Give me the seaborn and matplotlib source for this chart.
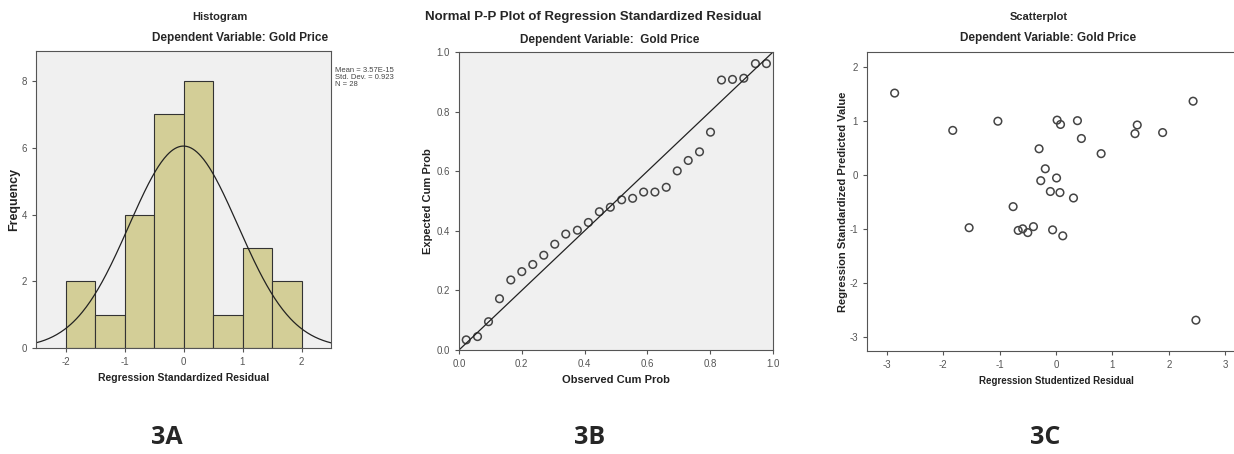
import numpy as np
import pandas as pd
import matplotlib
matplotlib.use("Agg")
import matplotlib.pyplot as plt
import seaborn as sns

# ---- data ----
bin_edges = [-2.0, -1.5, -1.0, -0.5, 0.0, 0.5, 1.0, 1.5, 2.0]
bin_counts = [2, 1, 4, 7, 8, 1, 3, 2]
resid_mean = 3.57e-15
resid_sd = 0.923
n_obs = 28

pp_observed = [0.023, 0.059, 0.094, 0.129, 0.165, 0.200, 0.235, 0.270, 0.305, 0.340,
               0.377, 0.412, 0.447, 0.482, 0.518, 0.553, 0.588, 0.624, 0.660, 0.695,
               0.730, 0.766, 0.801, 0.836, 0.871, 0.907, 0.944, 0.979]
pp_expected = [0.034, 0.045, 0.095, 0.172, 0.235, 0.263, 0.287, 0.318, 0.355, 0.389,
               0.402, 0.428, 0.464, 0.479, 0.504, 0.509, 0.530, 0.530, 0.546, 0.601,
               0.636, 0.665, 0.731, 0.906, 0.908, 0.912, 0.961, 0.961]

stud_resid = [-2.86, -1.83, -1.03, -1.54, -0.76, -0.67, -0.59, -0.50, -0.40, -0.06,
              0.12, -0.30, -0.19, -0.27, 0.01, -0.10, 0.07, 0.31, 0.02, 0.08,
              0.38, 0.45, 0.80, 1.40, 1.44, 1.89, 2.43, 2.48]
std_pred = [1.51, 0.82, 0.99, -0.98, -0.59, -1.03, -1.00, -1.07, -0.96, -1.02,
            -1.13, 0.48, 0.11, -0.11, -0.06, -0.31, -0.33, -0.43, 1.01, 0.93,
            1.00, 0.67, 0.39, 0.76, 0.92, 0.78, 1.36, -2.69]

sns.set_style("ticks", {"axes.edgecolor": "#555555", "xtick.color": "#555555",
                        "ytick.color": "#555555"})
plt.rcParams["font.family"] = ["Liberation Sans", "DejaVu Sans"]
plt.rcParams["axes.unicode_minus"] = False
plt.rcParams["xtick.labelsize"] = 7
plt.rcParams["ytick.labelsize"] = 7
plt.rcParams["xtick.major.size"] = 3
plt.rcParams["ytick.major.size"] = 3

W, H = 1234, 454
fig = plt.figure(figsize=(W / 100, H / 100), dpi=100)


def box(l, t, r, b):
    return [l / W, 1 - b / H, (r - l) / W, (b - t) / H]


grey_bg = "#f0f0f0"
narrow = ["Liberation Sans Narrow", "Liberation Sans", "DejaVu Sans"]
dot = dict(marker="o", s=30, facecolor="none", edgecolor="#444444", linewidth=1.1)


def label(ax, xl, yl, xs=8, ys=8):
    ax.set_xlabel(xl, fontsize=xs, fontweight="bold", color="#222222")
    ax.set_ylabel(yl, fontsize=ys, fontweight="bold", color="#222222")


#####################################################################
ax = fig.add_axes(box(36, 51, 331, 348))
ax.set_facecolor(grey_bg)
centers = [(a + b) / 2 for a, b in zip(bin_edges[:-1], bin_edges[1:])]
sns.histplot(x=centers, weights=bin_counts, bins=bin_edges, ax=ax,
             color="#d3ce97", alpha=1, edgecolor="#333333", linewidth=0.8)
xs = np.linspace(-2.5, 2.5, 300)
curve = n_obs * 0.5 * np.exp(-0.5 * ((xs - resid_mean) / resid_sd) ** 2) / (resid_sd * np.sqrt(2 * np.pi))
sns.lineplot(x=xs, y=curve, ax=ax, color="#222222", linewidth=0.9)
ax.set_xlim(-2.5, 2.5)
ax.set_ylim(0, 8.9)
ax.set_xticks([-2, -1, 0, 1, 2])
ax.set_yticks([0, 2, 4, 6, 8])
label(ax, "Regression Standardized Residual", "Frequency", xs=7.5, ys=9)
ax.yaxis.set_label_coords(-0.054, 0.5)
fig.text(335 / W, 1 - 67 / H, "Mean = 3.57E-15\nStd. Dev. = 0.923\nN = 28",
         fontsize=5.5, color="#444444", va="top", linespacing=0.95)
fig.text(220 / W, 1 - 17 / H, "Histogram", ha="center", va="center",
         fontsize=8, fontweight="bold", family=narrow)
fig.text(240 / W, 1 - 38 / H, "Dependent Variable: Gold Price", ha="center",
         va="center", fontsize=8.5, fontweight="bold", family=narrow)

#####################################################################
ax = fig.add_axes(box(459, 52, 773, 350))
ax.set_facecolor(grey_bg)
ax.plot([0, 1], [0, 1], color="#222222", linewidth=0.9)
sns.scatterplot(x=pp_observed, y=pp_expected, ax=ax, **dot)
ax.set_xlim(0, 1)
ax.set_ylim(0, 1)
ax.set_xticks(np.arange(0, 1.01, 0.2))
ax.set_yticks(np.arange(0, 1.01, 0.2))
ax.xaxis.set_major_formatter("{x:.1f}")
ax.yaxis.set_major_formatter("{x:.1f}")
label(ax, "Observed Cum Prob", "Expected Cum Prob")
ax.yaxis.set_label_coords(-0.083, 0.5)
fig.text(593 / W, 1 - 17 / H, "Normal P-P Plot of Regression Standardized Residual",
         ha="center", va="center", fontsize=9.5, fontweight="bold")
fig.text(610 / W, 1 - 40 / H, "Dependent Variable:  Gold Price", ha="center",
         va="center", fontsize=8.5, fontweight="bold", family=narrow)

#####################################################################
ax = fig.add_axes(box(867, 52, 867 + 378, 351))
ax.set_facecolor("white")
sns.scatterplot(x=stud_resid, y=std_pred, ax=ax, **dot)
ax.set_xlim(-3.35, 3.35)
ax.set_ylim(-3.26, 2.27)
ax.set_xticks([-3, -2, -1, 0, 1, 2, 3])
ax.set_yticks([-3, -2, -1, 0, 1, 2])
label(ax, "Regression Studentized Residual", "Regression Standardized Predicted Value",
      xs=7, ys=8)
ax.yaxis.set_label_coords(-0.05, 0.5)
fig.text(1039 / W, 1 - 17 / H, "Scatterplot", ha="center", va="center",
         fontsize=8, fontweight="bold", family=narrow)
fig.text(1048 / W, 1 - 38 / H, "Dependent Variable: Gold Price", ha="center",
         va="center", fontsize=8.5, fontweight="bold", family=narrow)

#####################################################################
for x, s in [(167, "3A"), (590, "3B"), (1045, "3C")]:
    fig.text(x / W, 1 - 437 / H, s, ha="center", va="center", fontsize=18,
             fontweight="bold", family=["Open Sans", "DejaVu Sans"])

fig.savefig("out.png", dpi=100)
